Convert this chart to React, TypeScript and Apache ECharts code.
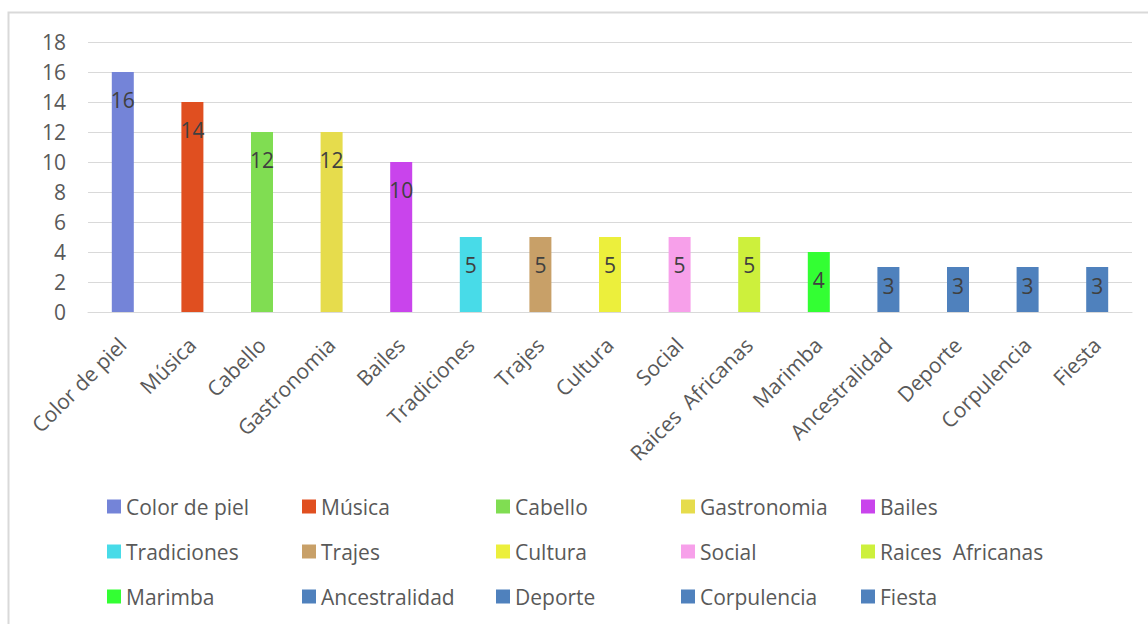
import React, { useEffect, useRef } from "react";
import * as echarts from "echarts";

const categories = [
  "Color de piel", "Música", "Cabello", "Gastronomia", "Bailes",
  "Tradiciones", "Trajes", "Cultura", "Social", "Raices  Africanas",
  "Marimba", "Ancestralidad", "Deporte", "Corpulencia", "Fiesta",
];
const values = [16, 14, 12, 12, 10, 5, 5, 5, 5, 5, 4, 3, 3, 3, 3];
const colors = [
  "#7484d8", "#e04f20", "#80dd52", "#e6dc4c", "#c944ec",
  "#48dbe8", "#c8a068", "#ecef3c", "#f7a0ea", "#cdf03c",
  "#33ff33", "#4f81bd", "#4f81bd", "#4f81bd", "#4f81bd",
];
const yTicks = { min: 0, max: 18, interval: 2 };

const FONT = "'Open Sans', sans-serif";
const FS = 21;

export default function App() {
  const ref = useRef<HTMLDivElement>(null);
  useEffect(() => {
    const chart = echarts.init(ref.current!, null, { renderer: "svg" });
    const series = categories.map((name, i) => ({
      name,
      type: "bar",
      stack: "all",
      barWidth: 22,
      itemStyle: { color: colors[i] },
      data: categories.map((_, j) => (j === i ? values[i] : "-")),
      label: {
        show: true,
        position: "insideTop",
        distance: values[i] <= 3 ? 8 : 17,
        color: "#404040",
        fontSize: FS,
        fontFamily: FONT,
        formatter: "{c}",
      },
    }));
    const colX = [107, 302, 496, 681, 861];
    const legends = colX.map((x, c) => ({
      orient: "vertical",
      left: x,
      top: 496,
      itemWidth: 14,
      itemHeight: 14,
      itemGap: 24,
      icon: "rect",
      selectedMode: false,
      data: [0, 1, 2].map((r) => categories[r * 5 + c]),
      textStyle: {
        color: "#595959",
        fontSize: FS,
        fontFamily: FONT,
        lineHeight: 18,
        padding: [0, 0, 0, 0],
      },
      padding: 0,
    }));
    chart.setOption({
      animation: false,
      graphic: [
        {
          type: "rect",
          shape: { x: 8.5, y: 12.5, width: 1200, height: 700 },
          style: { fill: "none", stroke: "#d9d9d9", lineWidth: 2 },
          silent: true,
        },
      ],
      grid: { left: 88, right: 16, top: 42, bottom: 312, containLabel: false },
      legend: legends,
      xAxis: {
        type: "category",
        data: categories,
        axisLine: { lineStyle: { color: "#d9d9d9", width: 1 } },
        axisTick: { show: false },
        axisLabel: {
          rotate: 45,
          interval: 0,
          margin: 14,
          verticalAlign: "top",
          padding: [0, 11, 0, 0],
          color: "#595959",
          fontSize: FS,
          fontFamily: FONT,
        },
      },
      yAxis: {
        type: "value",
        min: yTicks.min,
        max: yTicks.max,
        interval: yTicks.interval,
        axisLine: { show: false },
        axisTick: { show: false },
        splitLine: { lineStyle: { color: "#d9d9d9", width: 1 } },
        axisLabel: {
          margin: 22,
          color: "#595959",
          fontSize: FS,
          fontFamily: FONT,
        },
      },
      series,
    });
    return () => chart.dispose();
  }, []);
  return (
    <div
      ref={ref}
      style={{ position: "absolute", left: 0, top: 0, width: 1148, height: 624, background: "#fff" }}
    />
  );
}
